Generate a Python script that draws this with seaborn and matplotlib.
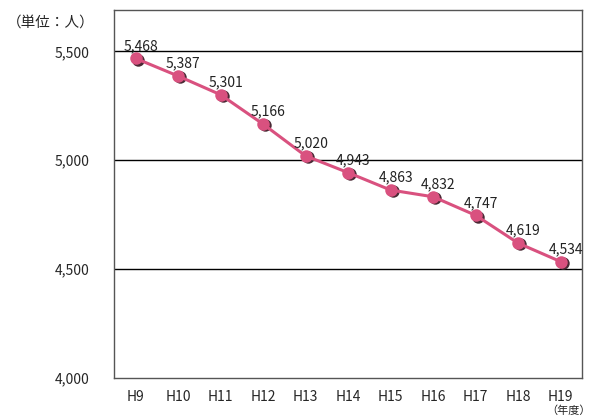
import matplotlib
matplotlib.use("Agg")
import matplotlib.pyplot as plt
import seaborn as sns
import pandas as pd

years = ["H9", "H10", "H11", "H12", "H13", "H14", "H15", "H16", "H17", "H18", "H19"]
people = [5468, 5387, 5301, 5166, 5020, 4943, 4863, 4832, 4747, 4619, 4534]

sns.set_style("white")
plt.rcParams["font.family"] = ["Noto Sans CJK JP", "DejaVu Sans"]

df = pd.DataFrame({"year": years, "people": people})
df["x"] = range(len(df))

fig = plt.figure(figsize=(5.92, 4.18), dpi=100)
ax = fig.add_axes([0.193, 0.096, 0.790, 0.880])

for y in [4500, 5000, 5500]:
    ax.axhline(y, color="black", lw=1.0, zorder=1)

# dark shadow behind markers
ax.scatter(df["x"] + 0.05, df["people"] - 6, s=80, color="#4a2a35", zorder=2, linewidths=0)
sns.lineplot(data=df, x="x", y="people", ax=ax, color="#d9517f", lw=2.2,
             marker="o", markersize=9, markeredgewidth=0, zorder=3)

for xi, v in zip(df["x"], df["people"]):
    ax.text(xi + 0.12, v + 25, f"{v:,}", ha="center", va="bottom", fontsize=10, color="#222222")

ax.set_xlim(-0.5, len(years) - 0.5)
ax.set_ylim(4000, 5690)
ax.set_yticks([4000, 4500, 5000, 5500])
ax.set_yticklabels([f"{v:,}" for v in [4000, 4500, 5000, 5500]], fontsize=10)
ax.set_xticks(range(len(years)))
ax.set_xticklabels(years, fontsize=10)
ax.set_xticks([i + 0.5 for i in range(len(years) - 1)], minor=True)
ax.tick_params(axis="x", which="major", length=0, pad=9)
ax.tick_params(axis="x", which="minor", length=5, direction="in", color="black")
ax.tick_params(axis="y", length=0, pad=18)
ax.set_xlabel("")
ax.set_ylabel("")
for s in ax.spines.values():
    s.set_color("#555555")
    s.set_linewidth(1.0)

fig.text(0.012, 0.945, "（単位：人）", fontsize=10.5, ha="left", va="center")
fig.text(0.998, 0.004, "（年度）", fontsize=8, ha="right", va="bottom")

fig.savefig("out.png", dpi=100)
